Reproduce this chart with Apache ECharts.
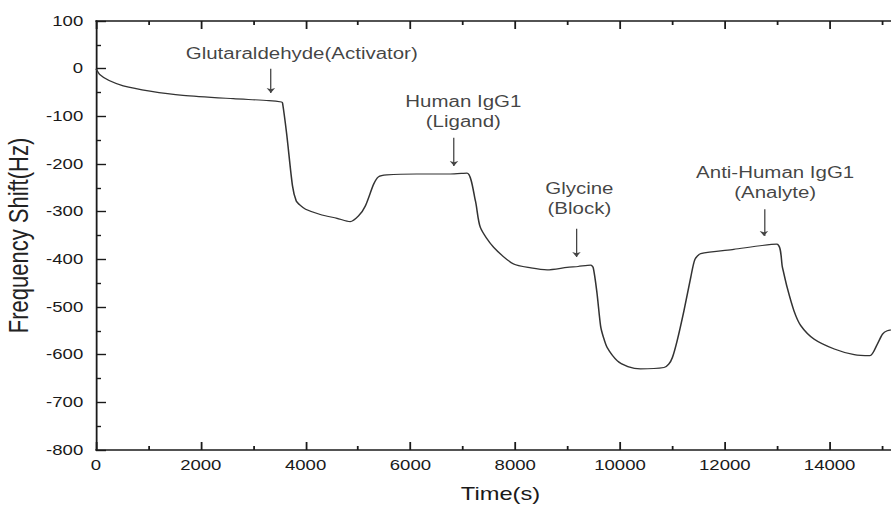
<!DOCTYPE html>
<html>
<head>
<meta charset="utf-8">
<title>Frequency Shift</title>
<script src="https://cdn.jsdelivr.net/npm/echarts@6/dist/echarts.min.js"></script>
<style>
  html, body { margin: 0; padding: 0; background: #fff; overflow: hidden; }
  /* the source picture is stretched sideways, so the chart is drawn narrow and widened */
  #main { width: 740px; height: 505px; transform: scaleX(1.28); transform-origin: 0 0; }
</style>
</head>
<body>
<div id="main"></div>
<script>
// sensor trace
const timeS = [0, 80, 250, 520, 1030, 1660, 2620, 3300, 3540, 3560, 3640, 3750, 3820, 3900, 4000, 4280, 4600, 4850,
  5010, 5140, 5300, 5390, 5550, 6120, 6760, 7080, 7240, 7335, 7590, 7970, 8300, 8610, 8990, 9200, 9440,
  9490, 9560, 9630, 9680, 9755, 9950, 10150, 10390, 10840, 10930, 11000, 11090, 11220, 11350, 11430, 11540,
  12170, 12990, 13100, 13190, 13320, 13450, 13700, 14090, 14470, 14770, 14910, 15010, 15100, 15300];
const shiftHz = [0, -13, -25, -36, -47, -56, -63, -67, -70, -72, -138, -246, -277, -287, -295, -306, -314, -321,
  -309, -288, -242, -227, -223, -221, -221, -219, -277, -333, -375, -410, -418, -422, -417, -415, -412,
  -418, -470, -540, -562, -585, -613, -625, -630, -627, -620, -606, -571, -508, -438, -400, -388,
  -379, -368, -417, -459, -508, -539, -567, -588, -600, -602, -578, -557, -550, -545];

// step labels and their arrows
const stepNames = ['Glutaraldehyde(Activator)', 'Human IgG1\n(Ligand)', 'Glycine\n(Block)', 'Anti-Human IgG1\n(Analyte)'];
const stepLabelX = [3926, 7010, 9225, 12961];
const stepLabelY = [33, -89, -272, -239];
const arrowX = [3337, 6832, 9169, 12747];
const arrowTop = [0, -145, -336, -295];
const arrowTip = [-51, -204, -395, -351];

const xTicks = { min: 0, max: 16000, interval: 2000 };
const yTicks = { min: -800, max: 100, interval: 100 };

const fontFamily = "'Liberation Sans', Arial, sans-serif";
const ink = '#1a1a1a';

const chart = echarts.init(document.getElementById('main'), null, { renderer: 'svg' });

const tickStyle = { show: true, inside: true, length: 8, lineStyle: { color: ink, width: 1.4 } };
const minorStyle = { show: true, splitNumber: 2, length: 4, lineStyle: { color: ink, width: 1.4 } };

const option = {
  animation: false,
  grid: { left: 75, right: 10, top: 21, bottom: 55, outerBoundsMode: 'none', containLabel: false },
  xAxis: [
    {
      type: 'value',
      position: 'bottom',
      min: xTicks.min,
      max: xTicks.max,
      interval: xTicks.interval,
      name: 'Time(s)',
      nameLocation: 'middle',
      nameGap: 34,
      nameTextStyle: { fontFamily, fontSize: 18.5, color: ink, padding: [0, 23, 0, 0] },
      axisLine: { show: true, onZero: false, lineStyle: { color: ink, width: 1.6 } },
      axisTick: tickStyle,
      minorTick: minorStyle,
      splitLine: { show: false },
      axisLabel: { fontFamily, fontSize: 14.5, color: ink, margin: 8, showMaxLabel: false, formatter: v => String(v) }
    },
    {
      type: 'value',
      position: 'top',
      min: xTicks.min,
      max: xTicks.max,
      interval: xTicks.interval,
      axisLine: { show: true, onZero: false, lineStyle: { color: ink, width: 1.6 } },
      axisTick: tickStyle,
      minorTick: minorStyle,
      splitLine: { show: false },
      axisLabel: { show: false }
    }
  ],
  yAxis: {
    type: 'value',
    min: yTicks.min,
    max: yTicks.max,
    interval: yTicks.interval,
    name: 'Frequency Shift(Hz)',
    nameLocation: 'middle',
    nameGap: 50,
    nameTextStyle: { fontFamily, fontSize: 22, color: '#222' },
    axisLine: { show: true, onZero: false, lineStyle: { color: ink, width: 1.4 } },
    axisTick: { show: true, inside: true, length: 7.8, lineStyle: { color: ink, width: 1.4 } },
    minorTick: { show: true, splitNumber: 2, length: 3.9, lineStyle: { color: ink, width: 1.4 } },
    splitLine: { show: false },
    axisLabel: { fontFamily, fontSize: 14.5, color: ink, margin: 10 }
  },
  series: [
    {
      name: 'Frequency shift',
      type: 'line',
      data: timeS.map((t, i) => [t, shiftHz[i]]),
      showSymbol: false,
      smooth: 0.25,
      lineStyle: { color: '#333', width: 1.2 },
      silent: true
    },
    {
      name: 'Steps',
      type: 'scatter',
      symbolSize: 1,
      itemStyle: { color: 'rgba(0,0,0,0)' },
      data: stepNames.map((n, i) => ({ name: n, value: [stepLabelX[i], stepLabelY[i]] })),
      label: {
        show: true,
        position: 'inside',
        formatter: '{b}',
        fontFamily,
        fontSize: 16,
        lineHeight: 20,
        color: '#111',
        align: 'center'
      },
      markLine: {
        silent: true,
        symbol: ['none', 'arrow'],
        symbolSize: 5,
        label: { show: false },
        lineStyle: { color: '#444', width: 1, type: 'solid' },
        data: arrowX.map((x, i) => [{ coord: [x, arrowTop[i]] }, { coord: [x, arrowTip[i]] }])
      },
      silent: true
    }
  ]
};

chart.setOption(option);
</script>
</body>
</html>
